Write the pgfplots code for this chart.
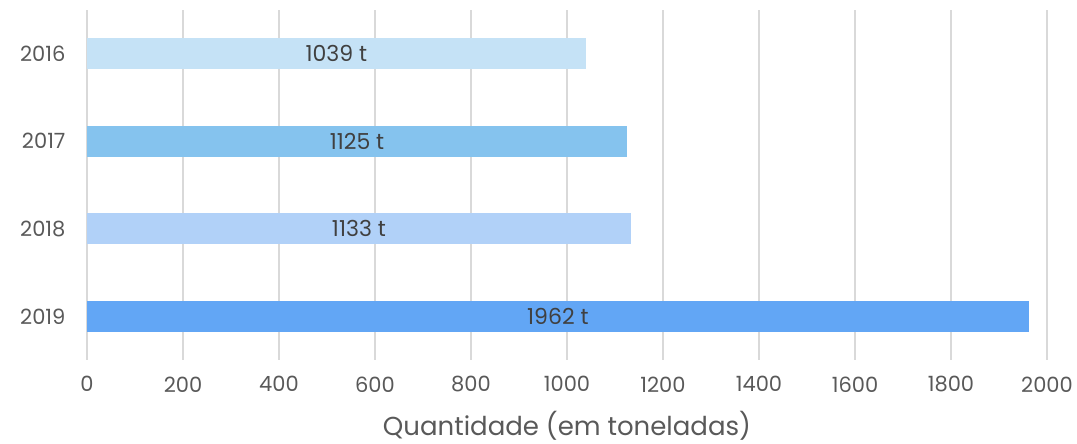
\documentclass[border=0pt]{standalone}
\usepackage{pgfplots}
\pgfplotsset{compat=1.18}
\usepackage{pgfplotstable}
\usepackage{fontspec}
\setmainfont{Poppins}
\definecolor{tick}{HTML}{595959}
\definecolor{lbl}{HTML}{404040}
\definecolor{gridc}{HTML}{D9D9D9}
\definecolor{c16}{HTML}{C5E2F6}
\definecolor{c17}{HTML}{85C3EE}
\definecolor{c18}{HTML}{B1D1F8}
\definecolor{c19}{HTML}{62A6F5}

\pgfplotstableread{
y v
0 1039
1 1125
2 1133
3 1962
}\qty

\begin{document}
\begin{tikzpicture}
\begin{axis}[
    width=960pt, height=350pt, scale only axis,
    xmin=0, xmax=2000,
    ymin=-0.5, ymax=3.5, y dir=reverse,
    xtick={0,200,...,2000},
    ytick={0,1,2,3},
    yticklabels={2016,2017,2018,2019},
    xmajorgrids,
    grid style={gridc, line width=1.6pt},
    axis line style={draw=none},
    major tick length=0pt,
    tick label style={font=\fontsize{21}{24}\selectfont, text=tick},
    /pgf/number format/assume math mode=true,
    /pgf/number format/1000 sep={},
    xticklabel style={yshift=-13pt},
    yticklabel style={xshift=-18pt},
    xlabel={Quantidade (em toneladas)},
    xlabel style={font=\fontsize{26}{30}\selectfont, text=tick, yshift=-12pt},
    xbar, bar width=31pt, bar shift=0pt,
    clip=false,
]
\addplot[fill=c16, draw=none] coordinates {(1039,0)};
\addplot[fill=c17, draw=none] coordinates {(1125,1)};
\addplot[fill=c18, draw=none] coordinates {(1133,2)};
\addplot[fill=c19, draw=none] coordinates {(1962,3)};
\addplot[draw=none, mark=none, nodes near coords={\pgfmathprintnumber[assume math mode=true,1000 sep={}]{\pgfplotspointmeta}~t},
    point meta=explicit,
    every node near coord/.style={anchor=center, text=lbl, font=\fontsize{22}{25}\selectfont}]
    table[x expr=\thisrow{v}/2, y=y, meta=v] {\qty};
\path (axis description cs:-0.0906,-0.237) rectangle (axis description cs:1.03125,1.0286);
\end{axis}
\end{tikzpicture}
\end{document}
